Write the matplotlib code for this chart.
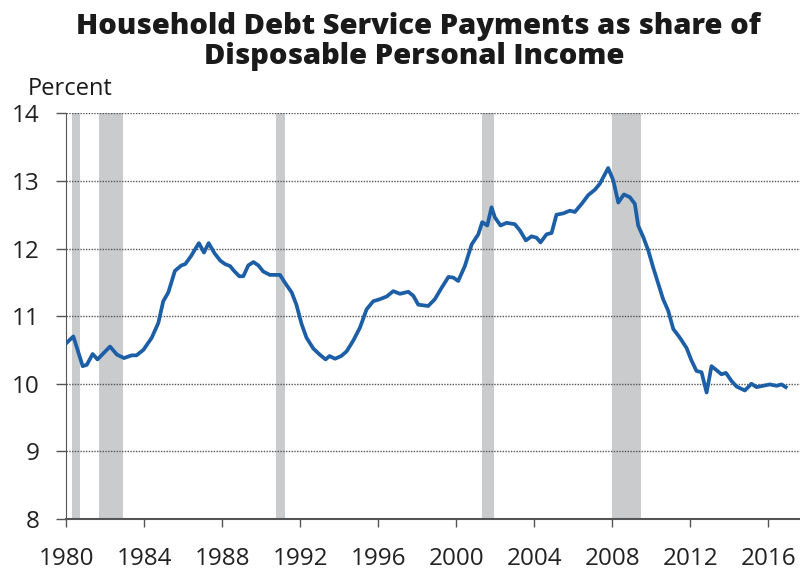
import matplotlib
matplotlib.use("Agg")
from matplotlib import pyplot as plt

# values (year fraction, percent)
years = [1980.0, 1980.36, 1980.84, 1981.05, 1981.35, 1981.6, 1982.24, 1982.6, 1982.96,
         1983.35, 1983.6, 1983.95, 1984.38, 1984.72, 1984.97, 1985.23, 1985.57, 1985.9,
         1986.1, 1986.4, 1986.8, 1987.06, 1987.3, 1987.6, 1987.9, 1988.14, 1988.4,
         1988.6, 1988.87, 1989.08, 1989.33, 1989.6, 1989.85, 1990.1, 1990.44, 1990.96,
         1991.2, 1991.56, 1991.8, 1992.07, 1992.32, 1992.67, 1993.0, 1993.3, 1993.5,
         1993.78, 1994.1, 1994.38, 1994.72, 1995.06, 1995.4, 1995.74, 1996.08, 1996.43,
         1996.77, 1997.11, 1997.54, 1997.8, 1998.05, 1998.56, 1998.9, 1999.25, 1999.6,
         1999.85, 2000.1, 2000.44, 2000.79, 2001.13, 2001.33, 2001.59, 2001.81, 2001.98,
         2002.27, 2002.58, 2003.0, 2003.26, 2003.57, 2003.86, 2004.12, 2004.32, 2004.63,
         2004.89, 2005.14, 2005.49, 2005.83, 2006.08, 2006.43, 2006.77, 2007.11, 2007.37,
         2007.57, 2007.79, 2008.05, 2008.31, 2008.6, 2008.9, 2009.16, 2009.33, 2009.59,
         2009.85, 2010.1, 2010.36, 2010.61, 2010.87, 2011.13, 2011.47, 2011.81, 2012.07,
         2012.32, 2012.58, 2012.84, 2013.09, 2013.35, 2013.6, 2013.83, 2014.12, 2014.37,
         2014.8, 2015.14, 2015.4, 2015.74, 2016.08, 2016.43, 2016.68, 2016.9]
dsr = [10.60, 10.70, 10.26, 10.28, 10.44, 10.36, 10.55, 10.43, 10.38,
       10.42, 10.42, 10.50, 10.68, 10.90, 11.22, 11.35, 11.67, 11.75,
       11.77, 11.89, 12.08, 11.94, 12.08, 11.93, 11.82, 11.77, 11.74,
       11.67, 11.59, 11.59, 11.75, 11.80, 11.75, 11.66, 11.61, 11.61,
       11.50, 11.35, 11.17, 10.88, 10.68, 10.52, 10.43, 10.36, 10.41,
       10.37, 10.41, 10.48, 10.64, 10.83, 11.10, 11.22, 11.25, 11.29,
       11.37, 11.33, 11.36, 11.30, 11.17, 11.15, 11.25, 11.42, 11.58,
       11.57, 11.52, 11.74, 12.06, 12.21, 12.39, 12.34, 12.61, 12.46,
       12.34, 12.38, 12.36, 12.27, 12.12, 12.18, 12.16, 12.09, 12.21,
       12.23, 12.50, 12.52, 12.56, 12.54, 12.66, 12.79, 12.87, 12.96,
       13.07, 13.19, 13.01, 12.68, 12.80, 12.76, 12.66, 12.34, 12.17,
       11.97, 11.72, 11.48, 11.25, 11.08, 10.81, 10.68, 10.53, 10.34,
       10.19, 10.17, 9.87, 10.26, 10.20, 10.14, 10.16, 10.04, 9.96,
       9.90, 10.00, 9.95, 9.97, 9.99, 9.97, 9.99, 9.95]

rec_start = [1980.28, 1981.7, 1990.75, 2001.3, 2008.0]
rec_end = [1980.7, 1982.9, 1991.2, 2001.96, 2009.45]

xticks = [1980, 1984, 1988, 1992, 1996, 2000, 2004, 2008, 2012, 2016]
yticks = [8, 9, 10, 11, 12, 13, 14]

plt.rcParams['font.family'] = ['Open Sans', 'DejaVu Sans']

fig = plt.figure(figsize=(8, 5.71), dpi=100)
ax = fig.add_axes([0.0829, 0.0911, 0.9171, 0.7105])

for a, b in zip(rec_start, rec_end):
    ax.axvspan(a, b, color='#c9cbcc', lw=0, zorder=1)

for y in yticks[1:]:
    ax.axhline(y, color='#555555', lw=1.0, ls=(0, (1, 1)), zorder=2)

ax.plot(years, dsr, color='#1c5fa6', lw=2.7, zorder=3, solid_joinstyle='round')

ax.set_xlim(1980, 2017.63)
ax.set_ylim(8, 14)
ax.set_xticks(xticks)
ax.set_yticks(yticks)
ax.tick_params(axis='both', labelsize=17.5, colors='#222222')
ax.tick_params(axis='y', length=7, width=1, color='#555555', pad=12)
ax.tick_params(axis='x', length=6, width=1, color='#555555', pad=14)

for s in ['top', 'right']:
    ax.spines[s].set_visible(False)
ax.spines['left'].set_color('#555555')
ax.spines['bottom'].set_color('#555555')
ax.spines['bottom'].set_linewidth(1.5)

fig.text(0.523, 0.94, 'Household Debt Service Payments as share of',
         ha='center', va='baseline', fontsize=21, fontweight='heavy', color='#1a1a1a')
fig.text(0.518, 0.888, 'Disposable Personal Income',
         ha='center', va='baseline', fontsize=21, fontweight='heavy', color='#1a1a1a')
fig.text(0.035, 0.834, 'Percent', ha='left', va='baseline', fontsize=17, color='#1a1a1a')

fig.savefig('out.png', dpi=100)
